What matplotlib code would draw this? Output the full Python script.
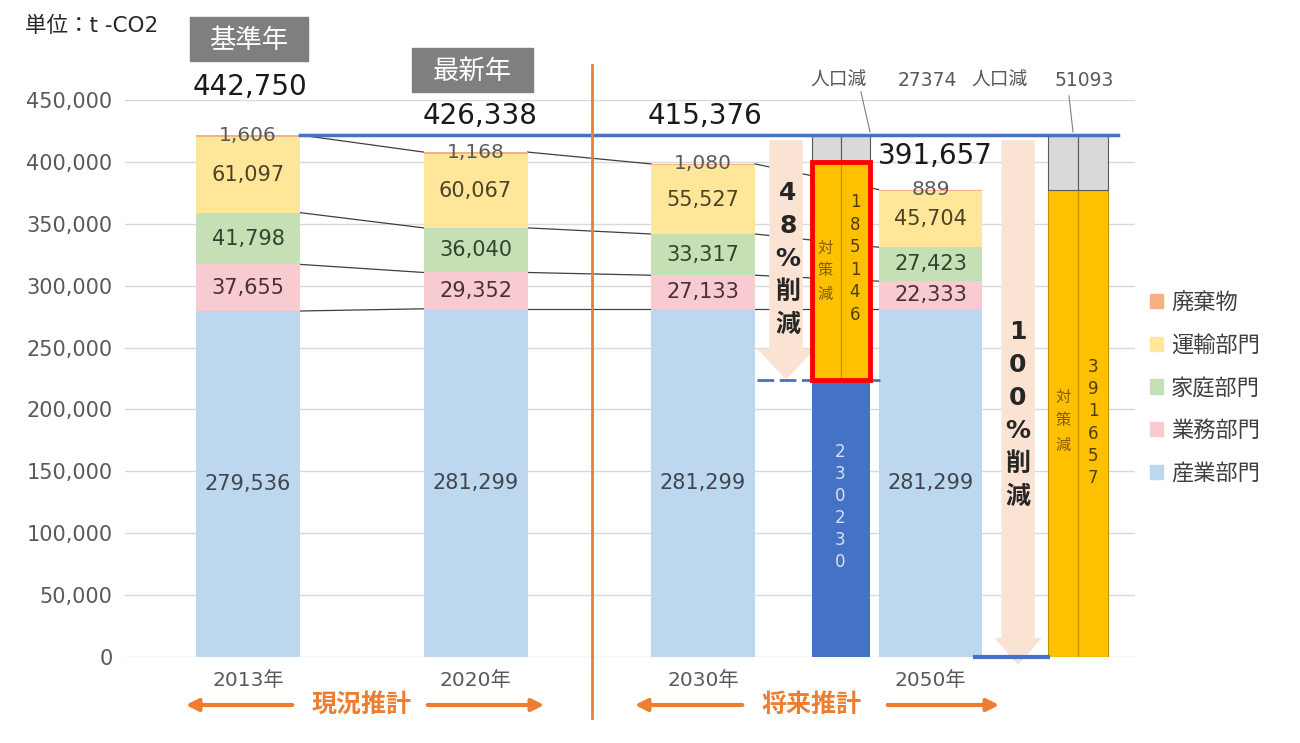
import matplotlib
matplotlib.use('Agg')
import matplotlib.pyplot as plt
from matplotlib.patches import FancyArrow, FancyArrowPatch, Rectangle, Patch
import numpy as np

plt.rcParams['font.family'] = ['DejaVu Sans', 'Noto Sans CJK JP']

# ---- data ----
years = ['2013年', '2020年', '2030年', '2050年']
sectors = ['産業部門', '業務部門', '家庭部門', '運輸部門', '廃棄物']
industry = [279536, 281299, 281299, 281299]
commercial = [37655, 29352, 27133, 22333]
household = [41798, 36040, 33317, 27423]
transport = [61097, 60067, 55527, 45704]
waste = [1606, 1168, 1080, 889]
total_labels = ['442,750', '426,338', '415,376', '391,657']

# reduction columns, heights as drawn in the picture
cut48_remain = 224000      # labelled 230230
cut48_measures = 176000    # labelled 185146
cut48_labels = ['230230', '185146', '27374']
cut100_labels = ['391657', '51093']

colors = ['#BDD7EE', '#F8CBD0', '#C5E0B4', '#FFE699', '#F4B183']
label_colors = ['#3F4650', '#4A3036', '#2F4530', '#4A4326', '#5A5A5A']

W, H = 1300, 743
fig = plt.figure(figsize=(W / 100, H / 100), dpi=100)
fig.patch.set_facecolor('white')
ax = fig.add_axes([125 / W, (H - 657) / H, 1010 / W, 557 / H])

def fpos(x, y):
    return x / W, 1 - y / H

def ftext(x, y, s, **kw):
    fx, fy = fpos(x, y)
    fig.text(fx, fy, s, **kw)

def vtext(x, y0, step, s, **kw):
    for i, c in enumerate(s):
        ftext(x, y0 + i * step, c, ha='center', va='center', **kw)

x = np.arange(len(years))
bw = 0.457
series = [industry, commercial, household, transport, waste]
bottom = np.zeros(len(years))
bounds = []
for vals, col in zip(series, colors):
    ax.bar(x, vals, bw, bottom=bottom, color=col, zorder=3)
    bottom = bottom + np.array(vals)
    bounds.append(bottom.copy())
totals = bounds[-1]

# segment labels
bottom = np.zeros(len(years))
for k, (vals, lc) in enumerate(zip(series[:4], label_colors)):
    for i, v in enumerate(vals):
        ax.text(x[i], bottom[i] + v / 2, f'{v:,}', ha='center', va='center',
                fontsize=15, color=lc, zorder=6)
    bottom = bottom + np.array(vals)
for i, v in enumerate(waste):
    ax.text(x[i], totals[i], f'{v:,}', ha='center', va='center',
            fontsize=14.5, color='#5A5A5A', zorder=6)

# connector lines between bars
for b in [bounds[0], bounds[1], bounds[2], bounds[4]]:
    for i in range(len(years) - 1):
        ax.plot([x[i] + bw / 2, x[i + 1] - bw / 2], [b[i], b[i + 1]],
                color='#404040', lw=0.9, zorder=2)

# 48% reduction column
c48 = 2.607
hw = 0.1275
ax.bar(c48, cut48_remain, 2 * hw, color='#4472C4', zorder=3)
for dx in (-hw / 2, hw / 2):
    ax.bar(c48 + dx, cut48_measures, hw, bottom=cut48_remain, color='#FFC000',
           edgecolor='#BF9000', lw=0.8, zorder=3)
    ax.bar(c48 + dx, totals[0] - cut48_remain - cut48_measures, hw,
           bottom=cut48_remain + cut48_measures, color='#D9D9D9',
           edgecolor='#595959', lw=0.8, zorder=3)
ax.add_patch(Rectangle((c48 - hw, cut48_remain), 2 * hw, cut48_measures,
                       fill=False, edgecolor='#FF0000', lw=3.5, zorder=5))

# 100% reduction column
c100 = 3.648
hw2 = 0.132
for dx in (-hw2 / 2, hw2 / 2):
    ax.bar(c100 + dx, totals[3], hw2, color='#FFC000', edgecolor='#BF9000',
           lw=0.8, zorder=3)
    ax.bar(c100 + dx, totals[0] - totals[3], hw2, bottom=totals[3],
           color='#D9D9D9', edgecolor='#595959', lw=0.8, zorder=3)

# reference lines
ax.plot([x[0] + bw / 2, 3.824], [totals[0], totals[0]], color='#4472C4',
        lw=2.5, zorder=4)
ax.plot([2.237, 2.778], [cut48_remain, cut48_remain], color='#4472C4',
        lw=2, ls=(0, (6, 2)), zorder=4)
ax.plot([3.196, 3.516], [0, 0], color='#4472C4', lw=3, zorder=4, clip_on=False)

# reduction arrows
ax.add_patch(FancyArrow(2.365, totals[0] - 4000, 0, cut48_remain - totals[0] + 4000,
                        width=0.147, head_width=0.255, head_length=25000,
                        length_includes_head=True, color='#FBE3D4', ec='none',
                        zorder=2.5))
ax.add_patch(FancyArrow(3.385, totals[0] - 4000, 0, -totals[0] - 2500,
                        width=0.147, head_width=0.21, head_length=22000,
                        length_includes_head=True, color='#FBE3D4', ec='none',
                        zorder=2.5, clip_on=False))

# axes style
ax.set_xlim(-0.541, 3.899)
ax.set_ylim(0, 450000)
ax.set_yticks(np.arange(0, 450001, 50000))
ax.set_yticklabels([f'{v:,}' for v in range(0, 450001, 50000)])
ax.set_xticks(x)
ax.set_xticklabels(years)
ax.tick_params(axis='y', length=0, pad=9, labelsize=15, labelcolor='#595959')
ax.tick_params(axis='x', length=0, pad=10, labelsize=14.5, labelcolor='#595959')
ax.grid(axis='y', color='#D9D9D9', lw=1, zorder=0)
ax.set_axisbelow(True)
for s in ax.spines.values():
    s.set_visible(False)

# totals above bars
tot_y = [460500, 437000, 437000, 404700]
tot_x = [0.01, 1.02, 2.01, 3.02]
for tx, ty, t in zip(tot_x, tot_y, total_labels):
    ax.text(tx, ty, t, ha='center', va='center', fontsize=20, color='#1A1A1A',
            zorder=6)

# header boxes
for (x0, y0, x1, y1), t in [((190, 17, 308, 61), '基準年'), ((412, 48, 533, 92), '最新年')]:
    fx0, fy1 = fpos(x0, y1)
    fig.patches.append(Rectangle((fx0, fy1), (x1 - x0) / W, (y1 - y0) / H,
                                 transform=fig.transFigure, color='#7F7F7F'))
    ftext((x0 + x1) / 2, (y0 + y1) / 2 + 1, t, ha='center', va='center',
          fontsize=19, color='white', family=['Noto Sans CJK JP'])

ftext(25, 26, '単位：t -CO2', ha='left', va='center', fontsize=15.5, color='#262626')

# population decrease labels
for px, t in [(839, '人口減'), (927, '27374'), (999, '人口減'), (1084, '51093')]:
    ftext(px, 80, t, ha='center', va='center', fontsize=13.5, color='#595959')
for (xa, ya, xb, yb) in [(861, 92, 870, 132), (1069, 96, 1073, 132)]:
    fig.add_artist(plt.Line2D([xa / W, xb / W], [1 - ya / H, 1 - yb / H],
                              transform=fig.transFigure, color='#7F7F7F', lw=0.8))

# vertical texts
vtext(788, 193, 33, '48%削減', fontsize=18, fontweight='bold', color='#262626')
vtext(1018, 332, 33, '100%削減', fontsize=18, fontweight='bold', color='#262626')
vtext(825, 248, 23, '対策減', fontsize=11, color='#7F6000')
vtext(855, 202, 22.6, cut48_labels[1], fontsize=12, color='#4D3F00')
vtext(840, 452, 22, cut48_labels[0], fontsize=12, color='#D6E2F3')
vtext(1063, 397, 24, '対策減', fontsize=11, color='#7F6000')
vtext(1093, 367, 22.2, cut100_labels[0], fontsize=12, color='#4D3F00')

# divider and bottom captions
fig.add_artist(plt.Line2D([592 / W, 592 / W], [1 - 65 / H, 1 - 718 / H],
                          transform=fig.transFigure, color='#ED7D31', lw=2))
for cx, t, (la, lb), (ra, rb) in [(362, '現況推計', (295, 183), (425, 547)),
                                   (812, '将来推計', (745, 632), (885, 1002))]:
    ftext(cx, 705, t, ha='center', va='center', fontsize=18, fontweight='bold',
          color='#ED7D31')
    for a, b in [(la, lb), (ra, rb)]:
        fig.add_artist(FancyArrowPatch(
            fpos(a, 705), fpos(b, 705), transform=fig.transFigure,
            arrowstyle='-|>', mutation_scale=18, color='#ED7D31', lw=3))

# legend
handles = [Patch(color=c, label=s) for c, s in zip(colors, sectors)][::-1]
leg = fig.legend(handles=handles, loc='upper left', bbox_to_anchor=fpos(1130, 272),
                 frameon=False, fontsize=16, handlelength=0.6, handleheight=0.6,
                 handletextpad=0.35, labelspacing=0.98)
for t in leg.get_texts():
    t.set_color('#404040')

fig.savefig('out.png', dpi=100)
